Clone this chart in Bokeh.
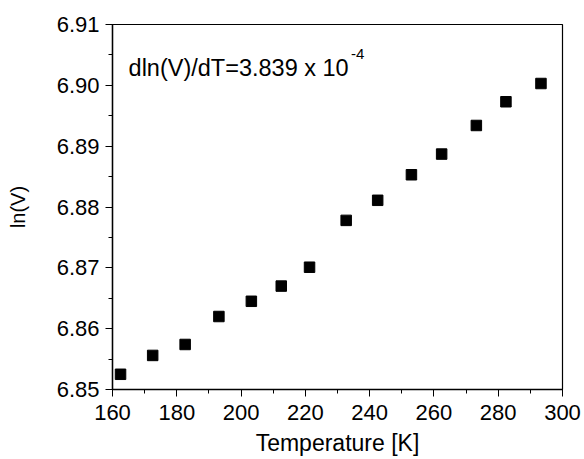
from bokeh.plotting import figure
from bokeh.models import Label, SingleIntervalTicker, PrintfTickFormatter
from bokeh.embed import file_html
from bokeh.resources import INLINE

temperature = [162.5, 172.5, 182.6, 193.1, 203.2, 212.5, 221.3, 232.7, 242.5, 253.0, 262.4, 273.2, 282.4, 293.3]
ln_v = [6.8525, 6.8556, 6.8574, 6.8620, 6.8645, 6.8670, 6.8701, 6.8778, 6.8811, 6.8853, 6.8887, 6.8934, 6.8973, 6.9003]

FONT = "Liberation Sans"

p = figure(width=584, height=459, x_range=(160, 300), y_range=(6.85, 6.91),
           output_backend="svg", toolbar_location=None,
           min_border_left=112, min_border_right=22, min_border_top=24, min_border_bottom=70)

p.scatter(temperature, ln_v, marker="square", size=10.5, fill_color="black", line_color="black")

p.xgrid.visible = False
p.ygrid.visible = False
p.outline_line_color = "black"
p.outline_line_width = 1.2
p.background_fill_color = "white"
p.border_fill_color = "white"

p.xaxis.ticker = SingleIntervalTicker(interval=20, num_minor_ticks=2)
p.yaxis.ticker = SingleIntervalTicker(interval=0.01, num_minor_ticks=2)
p.yaxis.formatter = PrintfTickFormatter(format="%.2f")

for ax in (p.xaxis[0], p.yaxis[0]):
    ax.axis_line_color = "black"
    ax.axis_line_width = 1.4
    ax.major_tick_line_color = "black"
    ax.minor_tick_line_color = "black"
    ax.major_tick_in = 0
    ax.major_tick_out = 7
    ax.minor_tick_in = 0
    ax.minor_tick_out = 4
    ax.major_label_text_font = FONT
    ax.major_label_text_font_size = "22px"
    ax.major_label_text_color = "black"
    ax.axis_label_text_font = FONT
    ax.axis_label_text_font_style = "normal"
    ax.axis_label_text_color = "black"

p.xaxis.axis_label = "Temperature [K]"
p.xaxis.axis_label_text_font_size = "23px"
p.xaxis.major_label_standoff = 8
p.xaxis.axis_label_standoff = 7

p.yaxis.axis_label = "ln(V)"
p.yaxis.axis_label_text_font_size = "20px"
p.yaxis.major_label_standoff = 6
p.yaxis.axis_label_standoff = 25

p.add_layout(Label(x=165.0, y=6.9029, text="dln(V)/dT=3.839 x 10",
                   text_font=FONT, text_font_size="23.5px", text_color="black",
                   text_baseline="alphabetic"))
p.add_layout(Label(x=234.2, y=6.9052, text="-4",
                   text_font=FONT, text_font_size="15px", text_color="black",
                   text_baseline="alphabetic"))

open("out.html", "w").write(file_html(p, INLINE))
